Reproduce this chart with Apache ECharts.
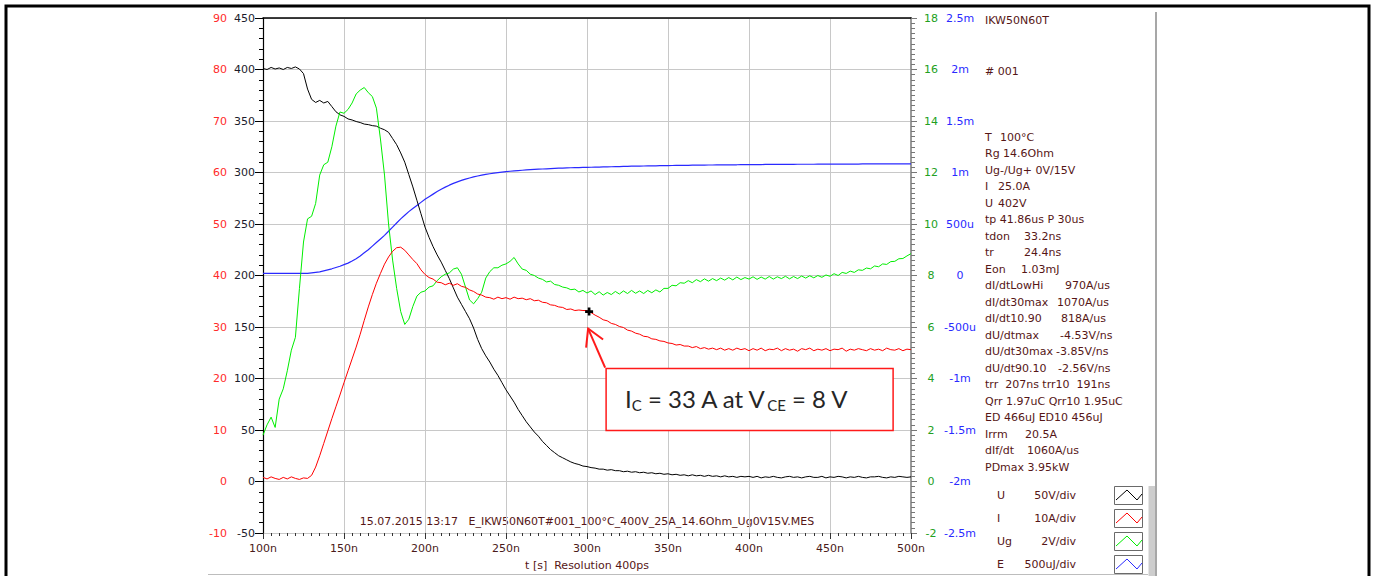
<!DOCTYPE html>
<html>
<head>
<meta charset="utf-8">
<script src="https://cdn.jsdelivr.net/npm/echarts@6/dist/echarts.min.js"></script>
<style>
  html, body { margin: 0; padding: 0; background: #ffffff; }
  #chart { width: 1375px; height: 576px; }
</style>
</head>
<body>
<div id="chart"></div>
<script>
// Turn-on switching waveform, samples every 2.5 ns from 100 ns to 500 ns
const sampleStartNs = 100;
const sampleStepNs = 2.5;

// Collector-emitter voltage U [V]
const voltageU = [
  401, 400, 402, 400.5, 401.5, 400, 402, 401, 402.5, 400.5,
  396, 381, 371, 368, 370, 367.5, 369, 364, 359, 356,
  354.5, 352, 351, 349.5, 348.5, 347, 346.5, 345.5, 345, 343,
  341.5, 339, 333, 327, 319, 310, 298, 286, 273, 260,
  247, 237, 228, 220, 213, 205, 197, 188, 179, 172,
  165, 158, 149, 138, 129, 122, 116, 109, 103, 96,
  89, 83, 77, 70, 64, 58, 53, 48, 44, 39,
  35, 31, 28, 25, 23, 21, 19, 17.5, 16.5, 15,
  14.5, 13.5, 13, 12, 12, 11, 11.5, 10.5, 10.5, 9.5,
  10, 9, 9.5, 8.5, 9, 8, 8.5, 7.5, 8, 7,
  7.5, 6.5, 7, 6, 6.5, 5.5, 6.5, 5.5, 6, 5,
  6, 5, 5.5, 4.5, 5.5, 4.5, 5, 4, 5, 4.5,
  5, 4, 5, 3.5, 4.5, 4, 5, 4, 3.5, 4.5,
  5, 4, 4.5, 3.5, 4.5, 5, 4, 4, 5, 3.5,
  4.5, 4, 5, 4.5, 3.5, 4.5, 4, 5, 4, 3.5,
  4.5, 4.5, 5, 4, 3.5, 4.5, 4, 5, 4.5, 4,
  4.5
];

// Collector current I [A]
const currentI = [
  0.8, 0.5, 0.9, 0.6, 0.4, 0.8, 0.5, 0.9, 0.6, 0.4,
  0.7, 0.6, 1.2, 2.8, 5.0, 7.4, 9.8, 12.2, 14.5, 16.8,
  19.2, 21.5, 23.8, 26.1, 28.6, 31.3, 33.9, 36.3, 38.5, 40.4,
  42.2, 43.6, 44.7, 45.4, 45.5, 44.9, 44.0, 43.1, 42.3, 41.1,
  40.2, 39.6, 39.3, 38.7, 38.6, 38.2, 38.5, 38.1, 38.4, 37.9,
  37.7, 37.2, 36.9, 36.4, 36.2, 35.8, 35.7, 35.4, 35.8, 35.5,
  35.7, 35.4, 35.8, 35.5, 35.6, 35.3, 35.5, 35.1, 35.2, 34.8,
  34.7, 34.3, 34.2, 33.9, 33.8, 33.4, 33.5, 33.2, 33.3, 33.2,
  33.2, 32.8, 32.3, 31.9, 31.4, 31.2, 30.7, 30.5, 30.1, 29.9,
  29.4, 29.2, 28.8, 28.6, 28.2, 28.1, 27.7, 27.6, 27.3, 27.2,
  26.9, 26.8, 26.5, 26.6, 26.3, 26.3, 26.0, 26.2, 25.8, 26.0,
  25.7, 25.9, 25.6, 25.9, 25.5, 25.8, 25.5, 25.9, 25.6, 25.8,
  25.4, 25.8, 25.5, 25.9, 25.4, 25.7, 25.6, 25.9, 25.4, 25.8,
  25.5, 25.7, 25.3, 25.8, 25.6, 25.9, 25.4, 25.7, 25.5, 25.8,
  25.4, 25.7, 25.6, 25.9, 25.3, 25.7, 25.5, 25.8, 25.6, 25.4,
  25.8, 25.5, 25.7, 25.4, 25.9, 25.6, 25.5, 25.8, 25.4, 25.7,
  25.6
];

// Gate voltage Ug [V]
const gateUg = [
  1.8, 2.2, 2.5, 2.1, 3.2, 3.6, 4.3, 5.1, 5.6, 7.5,
  9.3, 10.2, 10.3, 10.8, 11.9, 12.3, 12.4, 13.0, 13.8, 14.35,
  14.3, 14.45, 14.7, 15.05, 15.2, 15.3, 15.1, 14.95, 14.5, 13.3,
  11.9, 10.0, 8.6, 7.5, 6.6, 6.1, 6.3, 6.8, 7.2, 7.35,
  7.4, 7.55, 7.6, 7.8, 7.95, 8.05, 8.1, 8.25, 8.3, 8.05,
  7.55, 7.05, 6.9, 7.1, 7.35, 7.9, 8.15, 8.3, 8.3, 8.4,
  8.45, 8.55, 8.7, 8.45, 8.25, 8.2, 8.05, 8.0, 7.9, 7.85,
  7.75, 7.78, 7.65, 7.62, 7.55, 7.52, 7.45, 7.47, 7.36, 7.42,
  7.32, 7.40, 7.26, 7.37, 7.24, 7.34, 7.26, 7.38, 7.28, 7.40,
  7.30, 7.42, 7.31, 7.40, 7.30, 7.42, 7.33, 7.44, 7.36, 7.50,
  7.50, 7.62, 7.60, 7.72, 7.70, 7.80, 7.72, 7.84, 7.76, 7.87,
  7.78, 7.88, 7.80, 7.90, 7.82, 7.92, 7.83, 7.94, 7.84, 7.92,
  7.86, 7.95, 7.85, 7.94, 7.86, 7.96, 7.86, 7.95, 7.88, 7.97,
  7.87, 7.96, 7.88, 7.98, 7.90, 7.99, 7.91, 8.00, 7.93, 8.02,
  7.97, 8.07, 8.00, 8.12, 8.08, 8.17, 8.12, 8.22, 8.20, 8.29,
  8.26, 8.37, 8.34, 8.45, 8.43, 8.54, 8.55, 8.65, 8.66, 8.76,
  8.85
];

// Switching energy E [mJ]
const energyMilliJ = [
  0.02, 0.02, 0.02, 0.02, 0.02, 0.02, 0.02, 0.02, 0.02, 0.02,
  0.02, 0.02, 0.025, 0.03, 0.035, 0.045, 0.055, 0.065, 0.078, 0.09,
  0.105, 0.12, 0.14, 0.163, 0.19, 0.22, 0.25, 0.285, 0.32, 0.355,
  0.39, 0.43, 0.47, 0.51, 0.55, 0.585, 0.62, 0.65, 0.68, 0.71,
  0.74, 0.765, 0.79, 0.815, 0.838, 0.858, 0.877, 0.894, 0.909, 0.923,
  0.936, 0.947, 0.957, 0.966, 0.974, 0.981, 0.988, 0.994, 0.999, 1.004,
  1.008, 1.012, 1.016, 1.019, 1.022, 1.025, 1.028, 1.03, 1.032, 1.034,
  1.036, 1.038, 1.04, 1.042, 1.043, 1.045, 1.046, 1.047, 1.048, 1.049,
  1.05, 1.051, 1.052, 1.053, 1.054, 1.055, 1.056, 1.057, 1.058, 1.059,
  1.06, 1.061, 1.062, 1.062, 1.063, 1.064, 1.065, 1.065, 1.066, 1.067,
  1.067, 1.068, 1.069, 1.069, 1.07, 1.07, 1.071, 1.071, 1.072, 1.072,
  1.073, 1.073, 1.074, 1.074, 1.074, 1.075, 1.075, 1.075, 1.076, 1.076,
  1.076, 1.077, 1.077, 1.077, 1.078, 1.078, 1.078, 1.078, 1.079, 1.079,
  1.079, 1.079, 1.08, 1.08, 1.08, 1.08, 1.08, 1.081, 1.081, 1.081,
  1.081, 1.081, 1.082, 1.082, 1.082, 1.082, 1.082, 1.082, 1.083, 1.083,
  1.083, 1.083, 1.083, 1.083, 1.084, 1.084, 1.084, 1.084, 1.084, 1.084,
  1.084
];

// Marked operating point on the current trace: 33 A
const markedPoint = [301.3, 33];
const markedText = { ic: 33, vce: 8 };

// Measurement summary
const deviceName = 'IKW50N60T';
const runNumber = '# 001';
const summaryRows = [
  ['T', '100°C'],
  ['Rg 14.6Ohm', ''],
  ['Ug-/Ug+ 0V/15V', ''],
  ['I', '25.0A'],
  ['U', '402V'],
  ['tp 41.86us P 30us', ''],
  ['tdon', '33.2ns'],
  ['tr', '24.4ns'],
  ['Eon', '1.03mJ'],
  ['dI/dtLowHi', '970A/us'],
  ['dI/dt30max', '1070A/us'],
  ['dI/dt10.90', '818A/us'],
  ['dU/dtmax', '-4.53V/ns'],
  ['dU/dt30max', '-3.85V/ns'],
  ['dU/dt90.10', '-2.56V/ns'],
  ['trr  207ns trr10  191ns', ''],
  ['Qrr 1.97uC Qrr10 1.95uC', ''],
  ['ED 466uJ ED10 456uJ', ''],
  ['Irrm', '20.5A'],
  ['dIf/dt', '1060A/us'],
  ['PDmax 3.95kW', '']
];
// Column where each row's value starts (px from the row's left edge)
const summaryValueColumn = [15, 0, 0, 13, 13, 0, 39, 39, 36, 80, 72, 76, 75, 71, 73, 0, 0, 0, 40, 42, 0];

const channelNames = ['U', 'I', 'Ug', 'E'];
const channelScales = ['50V/div', '10A/div', '2V/div', '500uJ/div'];
const channelColors = ['#000000', '#ff0000', '#00ee00', '#2a2aff'];

const fileCaption = '15.07.2015 13:17   E_IKW50N60T#001_100°C_400V_25A_14.6Ohm_Ug0V15V.MES';
const timeAxisTitle = 't [s]  Resolution 400ps';

// ---------------------------------------------------------------
const FONT = 'DejaVu Sans';
const TEXT_DARK = '#561616';

function toPairs(values) {
  return values.map((v, i) => [sampleStartNs + i * sampleStepNs, v]);
}

function energyLabel(v) {
  if (Math.abs(v) < 1e-9) return '0';
  const a = Math.abs(v);
  const s = a < 1 ? Math.round(a * 1000) + 'u' : (+a.toFixed(1)) + 'm';
  return (v < 0 ? '-' : '') + s;
}

const chart = echarts.init(document.getElementById('chart'), null, { renderer: 'svg' });

// Static panel: frame, summary text and channel legend
const graphics = [];
graphics.push({ type: 'rect', silent: true, shape: { x: 6, y: 6, width: 1363, height: 640 },
  style: { fill: 'none', stroke: '#000', lineWidth: 3 } });
graphics.push({ type: 'line', silent: true, shape: { x1: 1156, y1: 12, x2: 1156, y2: 576 },
  style: { stroke: '#8a8a8a', lineWidth: 1.5 } });
graphics.push({ type: 'rect', silent: true, shape: { x: 1148.5, y: 486, width: 6.5, height: 92 },
  style: { fill: '#cdcdcd' } });
graphics.push({ type: 'line', silent: true, shape: { x1: 208, y1: 574.5, x2: 1148, y2: 574.5 },
  style: { stroke: '#bdbdbd', lineWidth: 1 } });

function panelText(x, y, text, align) {
  return { type: 'text', silent: true, x: x, y: y,
    style: { text: text, fill: TEXT_DARK, font: '11px "' + FONT + '"',
      textVerticalAlign: 'middle', verticalAlign: 'middle',
      align: align || 'left', textAlign: align || 'left' } };
}

graphics.push(panelText(985, 20, deviceName));
graphics.push(panelText(985, 71, runNumber));
summaryRows.forEach((row, i) => {
  const y = 137 + i * 16.5;
  graphics.push(panelText(985, y, row[0]));
  if (row[1]) graphics.push(panelText(985 + summaryValueColumn[i], y, row[1]));
});

channelNames.forEach((name, i) => {
  const cy = 495 + i * 23;
  graphics.push(panelText(997, cy, name));
  graphics.push(panelText(1076, cy, channelScales[i], 'right'));
  graphics.push({ type: 'rect', silent: true, shape: { x: 1114.5, y: cy - 8.5, width: 28, height: 18 },
    style: { fill: '#fff', stroke: '#6a6a6a', lineWidth: 1 } });
  graphics.push({ type: 'polyline', silent: true,
    shape: { points: [[1116, cy + 5], [1127, cy - 5], [1137, cy + 5], [1142, cy - 1]] },
    style: { fill: 'none', stroke: channelColors[i], lineWidth: 1 } });
});

graphics.push(panelText(587, 521, fileCaption, 'center'));

const option = {
  animation: false,
  textStyle: { fontFamily: FONT },
  grid: { left: 263, right: 464, top: 18, bottom: 43, containLabel: false, outerBoundsMode: 'none' },
  xAxis: [
    {
      type: 'value', min: 100, max: 500, interval: 50,
      axisLine: { show: false, onZero: false },
      axisTick: { show: true, length: 6, lineStyle: { color: '#333' } },
      minorTick: { show: true, splitNumber: 10, length: 3, lineStyle: { color: '#333' } },
      splitLine: { show: true, lineStyle: { color: '#c8c8c8', width: 1 } },
      minorSplitLine: { show: false },
      axisLabel: { formatter: v => v + 'n', color: '#4a1a1a', fontFamily: FONT, fontSize: 11, margin: 10 },
      name: timeAxisTitle, nameLocation: 'middle', nameGap: 27,
      nameTextStyle: { color: TEXT_DARK, fontFamily: FONT, fontSize: 11 }
    },
    {
      type: 'value', position: 'top', min: 100, max: 500, interval: 50,
      axisLine: { show: true, onZero: false, lineStyle: { color: '#000', width: 1.5 } },
      axisTick: { show: false }, axisLabel: { show: false }, splitLine: { show: false }
    }
  ],
  yAxis: [
    {
      type: 'value', min: -50, max: 450, interval: 50, position: 'left',
      axisLine: { show: true, onZero: false, lineStyle: { color: '#000', width: 1.2 } },
      axisTick: { show: true, length: 8, lineStyle: { color: '#000' } },
      minorTick: { show: true, splitNumber: 5, length: 4, lineStyle: { color: '#000' } },
      splitLine: { show: true, lineStyle: { color: '#c8c8c8', width: 1 } },
      axisLabel: { color: '#1c1c2c', margin: 8, fontFamily: FONT, fontSize: 11 }
    },
    {
      type: 'value', min: -10, max: 90, interval: 10, position: 'left',
      axisLine: { show: false, onZero: false }, axisTick: { show: false }, splitLine: { show: false },
      axisLabel: { color: '#ff2a2a', margin: 36, fontFamily: FONT, fontSize: 11 }
    },
    {
      type: 'value', min: -2, max: 18, interval: 2, position: 'right',
      axisLine: { show: true, onZero: false, lineStyle: { color: '#9a9a9a', width: 2 } },
      axisTick: { show: true, length: 6, lineStyle: { color: '#777' } },
      minorTick: { show: true, splitNumber: 10, length: 4, lineStyle: { color: '#777' } },
      splitLine: { show: false },
      axisLabel: { color: '#22a022', margin: 20, align: 'center', fontFamily: FONT, fontSize: 11 }
    },
    {
      type: 'value', min: -2.5, max: 2.5, interval: 0.5, position: 'right',
      axisLine: { show: false, onZero: false }, axisTick: { show: false }, splitLine: { show: false },
      axisLabel: { color: '#2a2aff', margin: 49, align: 'center', formatter: energyLabel, fontFamily: FONT, fontSize: 11 }
    }
  ],
  series: [
    { name: 'E', type: 'line', yAxisIndex: 3, data: toPairs(energyMilliJ), showSymbol: false,
      lineStyle: { color: channelColors[3], width: 1.2 }, itemStyle: { color: channelColors[3] } },
    { name: 'U', type: 'line', yAxisIndex: 0, data: toPairs(voltageU), showSymbol: false,
      lineStyle: { color: channelColors[0], width: 1 }, itemStyle: { color: channelColors[0] } },
    { name: 'Ug', type: 'line', yAxisIndex: 2, data: toPairs(gateUg), showSymbol: false,
      lineStyle: { color: channelColors[2], width: 1 }, itemStyle: { color: channelColors[2] } },
    { name: 'I', type: 'line', yAxisIndex: 1, data: toPairs(currentI), showSymbol: false,
      lineStyle: { color: channelColors[1], width: 1 }, itemStyle: { color: channelColors[1] },
      markPoint: {
        silent: true, symbol: 'path://M2,0H4V2H6V4H4V6H2V4H0V2H2Z', symbolSize: 8,
        itemStyle: { color: '#000' }, label: { show: false },
        data: [{ coord: markedPoint }]
      } }
  ],
  graphic: graphics
};

chart.setOption(option);

// Callout box and arrow anchored to the marked operating point
const p = chart.convertToPixel({ xAxisIndex: 0, yAxisIndex: 1 }, markedPoint);
const tip = [p[0] - 1, p[1] + 17];
const tail = [p[0] + 16, p[1] + 56];
const box = { x: p[0] + 17, y: p[1] + 57, width: 287, height: 62 };

const bigFont = '24px Lato';
const smallFont = '15px Lato';
const ctx = document.createElement('canvas').getContext('2d');
function measure(text, font) { ctx.font = font; return ctx.measureText(text).width; }

const pieces = [
  ['I', bigFont, 0],
  ['C', smallFont, 6],
  ['= ' + markedText.ic + ' A at V', bigFont, 0],
  ['CE', smallFont, 6],
  ['= ' + markedText.vce + ' V', bigFont, 0]
];
const callout = [];
callout.push({ type: 'rect', silent: true, shape: { x: box.x, y: box.y, width: box.width, height: box.height },
  style: { fill: '#ffffff', stroke: '#ff1a1a', lineWidth: 1.5 }, z: 100 });
callout.push({ type: 'line', silent: true, shape: { x1: tail[0], y1: tail[1], x2: tip[0], y2: tip[1] },
  style: { stroke: '#ff1a1a', lineWidth: 2 }, z: 100 });
callout.push({ type: 'polyline', silent: true, shape: { points: [[tip[0] - 2, tip[1] + 19], tip, [tip[0] + 15, tip[1] + 11]] },
  style: { fill: 'none', stroke: '#ff1a1a', lineWidth: 2 }, z: 100 });
let cx = box.x + 19;
const cy = box.y + box.height / 2 - 1;
pieces.forEach((pc) => {
  callout.push({ type: 'text', silent: true, x: cx, y: cy + pc[2], z: 101,
    style: { text: pc[0], font: pc[1], fill: '#262626', textVerticalAlign: 'middle', verticalAlign: 'middle' } });
  cx += measure(pc[0], pc[1]);
  if (pc[1] === smallFont) cx += measure(' ', bigFont);
});
chart.setOption({ graphic: graphics.concat(callout) });
</script>
</body>
</html>
